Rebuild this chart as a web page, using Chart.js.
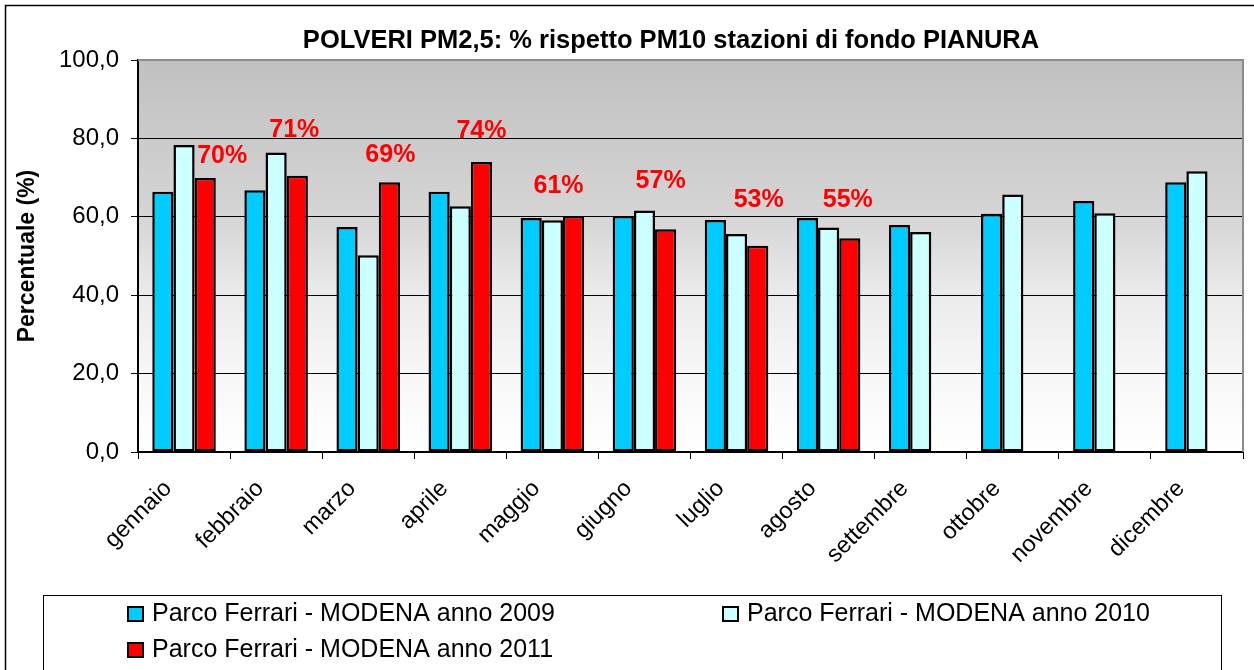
<!DOCTYPE html>
<html>
<head>
<meta charset="utf-8">
<script src="https://cdn.jsdelivr.net/npm/chart.js@4.4.0/dist/chart.umd.min.js"></script>
<style>
  html, body { margin: 0; padding: 0; background: #fff; }
  #wrap { width: 1254px; height: 670px; position: relative; }
</style>
</head>
<body>
<div id="wrap"><canvas id="grafico" width="1254" height="670"></canvas></div>
<script>
// dati
const mesi = ['gennaio', 'febbraio', 'marzo', 'aprile', 'maggio', 'giugno',
              'luglio', 'agosto', 'settembre', 'ottobre', 'novembre', 'dicembre'];
const anno2009 = [66.4, 66.8, 57.4, 66.4, 59.7, 60.2, 59.2, 59.7, 57.9, 60.8, 64.0, 68.8];
const anno2010 = [78.3, 76.4, 50.2, 62.7, 59.1, 61.6, 55.6, 57.3, 56.1, 65.7, 60.9, 71.6];
const anno2011 = [69.9, 70.5, 68.8, 74.0, 60.2, 56.8, 52.6, 54.5, null, null, null, null];
const percentuali2011 = ['70%', '71%', '69%', '74%', '61%', '57%', '53%', '55%'];
const nomiSerie = ['Parco Ferrari - MODENA anno 2009',
                   'Parco Ferrari - MODENA anno 2010',
                   'Parco Ferrari - MODENA anno 2011'];
const titolo = 'POLVERI PM2,5: % rispetto PM10 stazioni di fondo PIANURA';

const FONT = 'Arial, "Liberation Sans", sans-serif';

// posizione delle etichette % (spostamento dal centro della barra rossa, quota in unita' dell'asse)
const posEtichette = [
    { dx: 17, v: 73.7 }, { dx: -3, v: 80.3 }, { dx: 1, v: 73.9 }, { dx: 0, v: 80.1 },
    { dx: -15, v: 66.0 }, { dx: -5, v: 67.3 }, { dx: 1, v: 62.5 }, { dx: -2, v: 62.5 }
];

const decorazioni = {
    id: 'decorazioni',
    beforeDraw(chart) {
        const { ctx, chartArea: a } = chart;
        ctx.save();
        ctx.fillStyle = '#fff';
        ctx.fillRect(0, 0, chart.width, chart.height);
        const g = ctx.createLinearGradient(0, a.top, 0, a.bottom);
        g.addColorStop(0, '#c0c0c0');
        g.addColorStop(0.4, '#d5d5d5');
        g.addColorStop(0.6, '#ebebeb');
        g.addColorStop(0.8, '#f7f7f7');
        g.addColorStop(1, '#ffffff');
        ctx.fillStyle = g;
        ctx.fillRect(a.left, a.top, a.right - a.left, a.bottom - a.top);
        ctx.restore();
    },
    afterDraw(chart) {
        const { ctx, chartArea: a } = chart;
        const y = chart.scales.y;
        ctx.save();

        // bordo grigio sopra e a destra
        ctx.strokeStyle = '#8c8c8c';
        ctx.lineWidth = 2;
        ctx.beginPath();
        ctx.moveTo(a.left, a.top);
        ctx.lineTo(a.right, a.top);
        ctx.lineTo(a.right, a.bottom);
        ctx.stroke();

        // titolo
        ctx.fillStyle = '#000';
        ctx.font = 'bold 25.5px ' + FONT;
        ctx.textAlign = 'center';
        ctx.textBaseline = 'alphabetic';
        ctx.fillText(titolo, 671, 48);

        // etichette percentuali 2011
        const meta = chart.getDatasetMeta(2);
        ctx.fillStyle = '#ff0000';
        ctx.font = 'bold 25px ' + FONT;
        percentuali2011.forEach((t, i) => {
            const bar = meta.data[i];
            const p = posEtichette[i];
            ctx.fillText(t, bar.x + p.dx, y.getPixelForValue(p.v));
        });

        // legenda
        ctx.strokeStyle = '#000';
        ctx.lineWidth = 1;
        ctx.strokeRect(43.5, 595.5, 1178, 100);
        ctx.font = '25px ' + FONT;
        ctx.textAlign = 'left';
        ctx.textBaseline = 'middle';
        const posLeg = [[128, 614], [723, 614], [128, 650]];
        chart.data.datasets.forEach((ds, i) => {
            const [lx, ly] = posLeg[i];
            ctx.fillStyle = ds.backgroundColor;
            ctx.fillRect(lx, ly - 7, 15, 14);
            ctx.lineWidth = 2;
            ctx.strokeRect(lx, ly - 7, 15, 14);
            ctx.fillStyle = '#000';
            ctx.fillText(ds.label, lx + 24, ly);
        });

        // cornice esterna
        ctx.lineWidth = 1.5;
        ctx.strokeStyle = '#000';
        ctx.strokeRect(5.5, 5.5, 1300, 700);
        ctx.restore();
    }
};

new Chart(document.getElementById('grafico'), {
    type: 'bar',
    data: {
        labels: mesi,
        datasets: [
            { label: nomiSerie[0], data: anno2009, backgroundColor: '#00ccff' },
            { label: nomiSerie[1], data: anno2010, backgroundColor: '#ccffff' },
            { label: nomiSerie[2], data: anno2011, backgroundColor: '#ff0000' }
        ]
    },
    options: {
        responsive: false,
        animation: false,
        devicePixelRatio: 1,
        layout: { padding: { top: 60, right: 11, left: 0, bottom: 0 } },
        datasets: {
            bar: {
                borderColor: '#000',
                borderWidth: 2.5,
                borderSkipped: false,
                categoryPercentage: 0.69,
                barPercentage: 1
            }
        },
        plugins: {
            legend: { display: false },
            title: { display: false },
            tooltip: { enabled: false }
        },
        scales: {
            x: {
                afterFit(s) { s.height = 218; },
                grid: {
                    offset: true,
                    drawOnChartArea: false,
                    color: '#000',
                    tickLength: 7
                },
                border: { color: '#000', width: 2 },
                ticks: {
                    color: '#000',
                    font: { family: FONT, size: 23.5 },
                    maxRotation: 45,
                    minRotation: 45,
                    labelOffset: -16,
                    padding: 16
                }
            },
            y: {
                min: 0,
                max: 100,
                afterFit(s) { s.width = 138; },
                grid: {
                    color: ctx => ctx.tick && ctx.tick.value === 100 ? 'rgba(0,0,0,0)' : '#000',
                    tickColor: '#000',
                    tickLength: 7,
                    lineWidth: 1
                },
                border: { color: '#000', width: 2 },
                ticks: {
                    stepSize: 20,
                    color: '#000',
                    padding: 12,
                    font: { family: FONT, size: 24 },
                    callback: v => v.toFixed(1).replace('.', ',')
                },
                title: {
                    display: true,
                    text: 'Percentuale (%)',
                    color: '#000',
                    font: { family: FONT, size: 23, weight: 'bold' },
                    padding: { top: 14, bottom: 0 }
                }
            }
        }
    },
    plugins: [decorazioni]
});
</script>
</body>
</html>
